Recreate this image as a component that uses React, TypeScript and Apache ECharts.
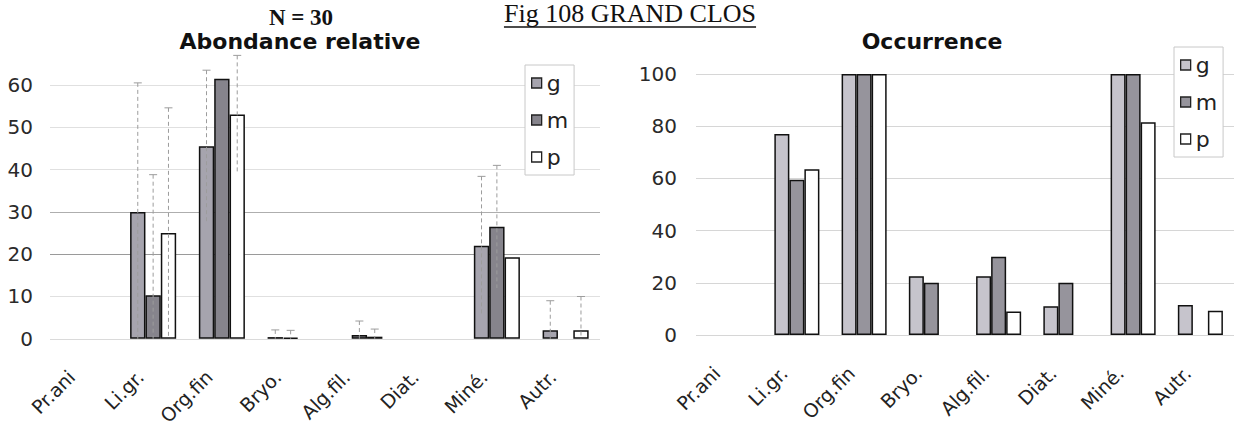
import React, { useEffect, useRef } from "react";
import * as echarts from "echarts";

const categories = ["Pr.ani", "Li.gr.", "Org.fin", "Bryo.", "Alg.fil.", "Diat.", "Miné.", "Autr."];
const seriesNames = ["g", "m", "p"];

// Abondance relative (left)
const abG = [null, 30, 45.5, 0.4, null, null, 22, 2];
const abM = [null, 10.3, 61.5, 0.3, 0.9, null, 26.5, null];
const abP = [null, 25, 53, null, 0.5, null, 19.3, 2];
// error (standard deviation) on the abundance bars
const sdG = [0, 30.5, 18, 1.7, 0, 0, 16.4, 7];
const sdM = [0, 28.5, 0, 1.7, 3.3, 0, 14.5, 0];
const sdP = [0, 29.6, 14, 0, 1.8, 0, 0, 8];

// Occurrence (right)
const occG = [null, 77, 100, 22.5, 22.5, 11, 100, 11.5];
const occM = [null, 59.5, 100, 20, 30, 20, 100, null];
const occP = [null, 63.5, 100, null, 9, null, 81.5, 9.3];

const leftTicks = { min: 0, max: 60, interval: 10 };
const rightTicks = { min: 0, max: 100, interval: 20 };

const titleN = "N = 30";
const titleLeft = "Abondance relative";
const titleRight = "Occurrence";
const titleFig = "Fig 108 GRAND CLOS";

const leftColors = ["#a6a4ae", "#86848c", "#ffffff"];
const rightColors = ["#c6c4cc", "#96949c", "#ffffff"];

const SANS = "DejaVu Sans";
const SERIF = "Liberation Serif";
const CAT_GAP = 0.33;

function measure(text: string, font: string): number {
  const c = document.createElement("canvas").getContext("2d");
  if (!c) return text.length * 13;
  c.font = font;
  return c.measureText(text).width;
}

function errorSeries(k: number, vals: (number | null)[], sds: number[]) {
  const data: number[][] = [];
  vals.forEach((v, i) => {
    if (v != null && sds[i] > 0) data.push([i, v, sds[i]]);
  });
  return {
    type: "custom",
    xAxisIndex: 0,
    yAxisIndex: 0,
    clip: false,
    z: 5,
    silent: true,
    data,
    renderItem: (params: any, api: any) => {
      const i = api.value(0);
      const v = api.value(1);
      const e = api.value(2);
      const band = api.size([1, 0])[0];
      const bw = (band * (1 - CAT_GAP)) / 3;
      const x = api.coord([i, 0])[0] + (k - 1) * bw;
      const yTop = api.coord([i, v + e])[1];
      const yBot = api.coord([i, Math.max(0, v - e)])[1];
      const cap = 8;
      return {
        type: "group",
        children: [
          {
            type: "line",
            shape: { x1: x, y1: yTop, x2: x, y2: yBot },
            style: { stroke: "#9c9c9c", lineWidth: 1, lineDash: [4, 3] },
          },
          {
            type: "line",
            shape: { x1: x - cap / 2, y1: yTop, x2: x + cap / 2, y2: yTop },
            style: { stroke: "#9c9c9c", lineWidth: 1 },
          },
        ],
      };
    },
  };
}

export default function App() {
  const ref = useRef<HTMLDivElement>(null);
  useEffect(() => {
    document.body.style.margin = "0";
    if (!ref.current) return;
    const chart = echarts.init(ref.current, undefined, { renderer: "svg" });

    const figFont = `26px "${SERIF}"`;
    const figW = measure(titleFig, figFont);
    const figCx = 630;

    const barBase = {
      type: "bar",
      barGap: "0%",
      barCategoryGap: `${CAT_GAP * 100}%`,
      clip: false,
    };
    const leftData = [abG, abM, abP];
    const rightData = [occG, occM, occP];

    const xAxisCommon = {
      type: "category",
      data: categories,
      axisLine: { show: false },
      axisTick: { show: false },
      axisLabel: {
        interval: 0,
        rotate: 45,
        fontSize: 19,
        fontFamily: SANS,
        color: "#222",
        margin: 22,
        padding: [0, 18, 0, 0],
      },
    };
    const yLabel = { fontSize: 20, fontFamily: SANS, color: "#2a2a2a" };

    const legendCommon = {
      orient: "vertical",
      selectedMode: false,
      icon: "rect",
      itemWidth: 10,
      itemHeight: 10,
      itemGap: 15,
      padding: [7, 6, 7, 6],
      borderColor: "#c8c8c8",
      borderWidth: 1,
      backgroundColor: "#ffffff",
      textStyle: { fontSize: 22, lineHeight: 22, fontFamily: SANS, color: "#222" },
      itemStyle: { borderColor: "#222", borderWidth: 1.3 },
    };

    const option: any = {
      animation: false,
      backgroundColor: "#ffffff",
      textStyle: { fontFamily: SANS },
      grid: [
        { left: 50, right: 638, top: 85, bottom: 88 },
        { left: 696, right: 4, top: 74, bottom: 93 },
      ],
      xAxis: [
        { ...xAxisCommon, gridIndex: 0 },
        { ...xAxisCommon, gridIndex: 1 },
      ],
      yAxis: [
        {
          type: "value",
          gridIndex: 0,
          ...leftTicks,
          axisLine: { show: false },
          axisTick: { show: false },
          axisLabel: { ...yLabel, margin: 17 },
          splitLine: {
            lineStyle: {
              color: ["#dadada", "#e0e0e0", "#9a9a9a", "#aeaeae", "#e0e0e0", "#e0e0e0", "#e0e0e0"],
              width: 1,
            },
          },
        },
        {
          type: "value",
          gridIndex: 1,
          ...rightTicks,
          axisLine: { show: false },
          axisTick: { show: false },
          axisLabel: { ...yLabel, margin: 19 },
          splitLine: { lineStyle: { color: "#d6d6d6", width: 1 } },
        },
      ],
      legend: [
        {
          ...legendCommon,
          left: 525,
          top: 65,
          data: seriesNames.map((n, k) => ({ name: n, itemStyle: { color: leftColors[k] } })),
        },
        {
          ...legendCommon,
          left: 1174,
          top: 47,
          data: seriesNames.map((n, k) => ({ name: n, itemStyle: { color: rightColors[k] } })),
        },
      ],
      series: [
        ...seriesNames.map((n, k) => ({
          ...barBase,
          name: n,
          xAxisIndex: 0,
          yAxisIndex: 0,
          data: leftData[k],
          itemStyle: { color: leftColors[k], borderColor: "#111", borderWidth: 1.5 },
        })),
        ...seriesNames.map((n, k) => ({
          ...barBase,
          name: n,
          xAxisIndex: 1,
          yAxisIndex: 1,
          data: rightData[k],
          itemStyle: { color: rightColors[k], borderColor: "#111", borderWidth: 1.5 },
        })),
        errorSeries(0, abG, sdG),
        errorSeries(1, abM, sdM),
        errorSeries(2, abP, sdP),
      ],
      graphic: [
        {
          type: "text",
          x: 301,
          y: 17,
          style: {
            text: titleN,
            font: `bold 23px "${SERIF}"`,
            fill: "#111",
            textAlign: "center",
            textVerticalAlign: "middle",
          },
        },
        {
          type: "text",
          x: 300,
          y: 41,
          style: {
            text: titleLeft,
            font: `bold 22px "${SANS}"`,
            fill: "#111",
            textAlign: "center",
            textVerticalAlign: "middle",
          },
        },
        {
          type: "text",
          x: 932,
          y: 41,
          style: {
            text: titleRight,
            font: `bold 22px "${SANS}"`,
            fill: "#111",
            textAlign: "center",
            textVerticalAlign: "middle",
          },
        },
        {
          type: "text",
          x: figCx,
          y: 13.5,
          style: {
            text: titleFig,
            font: figFont,
            fill: "#111",
            textAlign: "center",
            textVerticalAlign: "middle",
          },
        },
        {
          type: "line",
          shape: { x1: figCx - figW / 2, y1: 27, x2: figCx + figW / 2, y2: 27 },
          style: { stroke: "#111", lineWidth: 1.3 },
        },
      ],
    };
    chart.setOption(option);
    return () => chart.dispose();
  }, []);
  return <div ref={ref} style={{ width: 1238, height: 428 }} />;
}
